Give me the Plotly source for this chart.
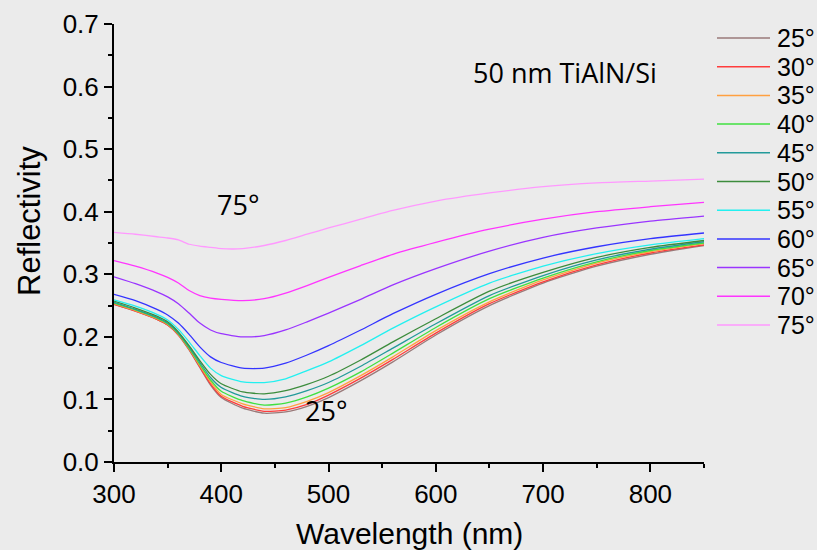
import plotly.graph_objects as go

wavelength = [300, 320, 340, 350, 360, 370, 380, 390, 400, 420, 440, 460, 480, 500, 530, 560, 600, 650, 700, 750, 800, 850]

r25 = [.252, .241, .228, .219, .203, .179, .151, .123, .103, .086, .078, .080, .089, .103, .130, .160, .203, .250, .286, .313, .332, .346]
r30 = [.252, .241, .228, .219, .203, .180, .152, .125, .105, .089, .081, .083, .092, .107, .134, .164, .206, .253, .288, .315, .334, .347]
r35 = [.253, .242, .229, .220, .204, .181, .154, .128, .108, .093, .085, .087, .097, .111, .138, .168, .210, .256, .291, .318, .336, .349]
r40 = [.254, .243, .230, .221, .205, .182, .156, .131, .113, .098, .091, .094, .104, .118, .144, .174, .215, .261, .294, .320, .338, .350]
r45 = [.255, .244, .231, .222, .206, .184, .159, .135, .119, .105, .100, .104, .114, .127, .153, .182, .221, .266, .298, .323, .340, .352]
r50 = [.257, .246, .233, .224, .208, .186, .162, .140, .125, .112, .109, .114, .124, .137, .163, .192, .229, .273, .303, .327, .343, .354]
r55 = [.259, .249, .236, .227, .212, .192, .170, .150, .138, .128, .127, .133, .146, .160, .186, .214, .248, .286, .313, .333, .347, .357]
r60 = [.268, .258, .244, .235, .222, .204, .184, .168, .159, .150, .150, .158, .171, .186, .211, .237, .268, .301, .326, .344, .357, .366]
r65 = [.296, .285, .272, .264, .253, .238, .222, .211, .205, .200, .202, .211, .224, .238, .260, .283, .309, .337, .359, .374, .385, .393]
r70 = [.322, .313, .302, .295, .286, .274, .266, .262, .260, .258, .261, .270, .282, .295, .314, .332, .351, .372, .388, .400, .408, .415]
r75 = [.367, .364, .360, .358, .355, .348, .345, .343, .341, .341, .346, .354, .364, .374, .388, .402, .417, .430, .440, .446, .449, .452]

angles = ["25°", "30°", "35°", "40°", "45°", "50°", "55°", "60°", "65°", "70°", "75°"]
series = [r25, r30, r35, r40, r45, r50, r55, r60, r65, r70, r75]
colors = ["#9a7a7a", "#ff3c3c", "#ffa040", "#40e040", "#229a9a", "#3c8c3c",
          "#22f0f0", "#3434ff", "#9a34ff", "#ff34ff", "#ff99ff"]

x_ticks = [300, 400, 500, 600, 700, 800]
y_ticks = [0.0, 0.1, 0.2, 0.3, 0.4, 0.5, 0.6, 0.7]

BG = "#ebebeb"
ARIAL = "Liberation Sans, Arial"
tick_font = dict(family=ARIAL, size=26, color="black")

W, H = 817, 550
ML, MR, MT, MB = 114, 113, 24, 88
plot_w = W - ML - MR
plot_h = H - MT - MB

def px_x(p):
    return (p - ML) / plot_w

def px_y(p):
    return (H - MB - p) / plot_h

fig = go.Figure()
for name, vals, col in zip(angles, series, colors):
    fig.add_trace(go.Scatter(x=wavelength, y=vals, mode="lines", name=name, showlegend=False,
                             line=dict(color=col, width=1.3, shape="spline", smoothing=0.6)))

fig.update_layout(
    width=W, height=H,
    paper_bgcolor=BG, plot_bgcolor=BG,
    margin=dict(l=ML, r=MR, t=MT, b=MB),
    showlegend=False,
    xaxis=dict(range=[300, 850], tickvals=x_ticks, ticks="outside", ticklen=8, tickwidth=2,
               tickcolor="black", showline=True, linecolor="black", linewidth=2,
               showgrid=False, zeroline=False, tickfont=tick_font, automargin=False,
               minor=dict(dtick=50, ticks="outside", ticklen=4, tickwidth=2, tickcolor="black", showgrid=False)),
    yaxis=dict(range=[0, 0.7], tickvals=y_ticks, tickformat=".1f", ticks="outside", ticklen=8, tickwidth=2,
               tickcolor="black", showline=True, linecolor="black", linewidth=2,
               showgrid=False, zeroline=False, tickfont=tick_font, automargin=False,
               minor=dict(dtick=0.05, ticks="outside", ticklen=4, tickwidth=2, tickcolor="black", showgrid=False)),
    xaxis2=dict(range=[300, 850], overlaying="x", side="top", tickvals=x_ticks, ticks="inside", ticklen=8,
                tickwidth=2, tickcolor="black", showticklabels=False, showline=True, linecolor="black",
                linewidth=2, showgrid=False, zeroline=False,
                minor=dict(dtick=50, ticks="inside", ticklen=4, tickwidth=2, tickcolor="black", showgrid=False)),
    yaxis2=dict(range=[0, 0.7], overlaying="y", side="right", tickvals=y_ticks, ticks="inside", ticklen=8,
                tickwidth=2, tickcolor="black", showticklabels=False, showline=True, linecolor="black",
                linewidth=2, showgrid=False, zeroline=False,
                minor=dict(dtick=0.05, ticks="inside", ticklen=4, tickwidth=2, tickcolor="black", showgrid=False)),
)

# axis titles
fig.add_annotation(x=px_x(30), y=px_y(221), xref="paper", yref="paper", text="Reflectivity", textangle=-90,
                   xanchor="center", yanchor="middle", showarrow=False,
                   font=dict(family=ARIAL, size=31, color="black"))
fig.add_annotation(x=0.5, y=px_y(533), xref="paper", yref="paper", text="Wavelength (nm)",
                   xanchor="center", yanchor="middle", showarrow=False,
                   font=dict(family=ARIAL, size=30, color="black"))

label_font = dict(family="Open Sans", size=27, color="black")
fig.add_annotation(x=720, y=0.623, xref="x", yref="y", text="50 nm TiAlN/Si", showarrow=False,
                   xanchor="center", yanchor="middle", font=label_font)
fig.add_annotation(x=416, y=0.411, xref="x", yref="y", text="75°", showarrow=False,
                   xanchor="center", yanchor="middle", font=label_font)
fig.add_annotation(x=498, y=0.083, xref="x", yref="y", text="25°", showarrow=False,
                   xanchor="center", yanchor="middle", font=label_font)

# legend at right
for i, (name, col) in enumerate(zip(angles, colors)):
    yp = px_y(38 + i * 28.7)
    fig.add_shape(type="line", xref="paper", yref="paper",
                  x0=px_x(717), x1=px_x(770), y0=yp, y1=yp,
                  line=dict(color=col, width=1.5))
    fig.add_annotation(x=px_x(775), y=yp, xref="paper", yref="paper", text=name,
                       xanchor="left", yanchor="middle", showarrow=False,
                       font=dict(family=ARIAL, size=25, color="black"))

fig.write_html("out.html")
